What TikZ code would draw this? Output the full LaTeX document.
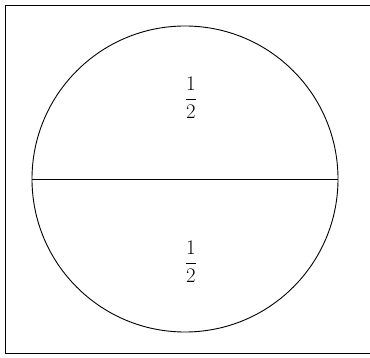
\documentclass[tikz,border=0pt]{standalone}
\begin{document}
\begin{tikzpicture}[x=1pt,y=-1pt,
  frameline/.style={line width=0.7pt},
  circline/.style={line width=0.9pt},
  frac/.style={font=\huge, inner sep=0pt}]
\useasboundingbox (0,0) rectangle (370,358);
\coordinate (tl) at (5,5);
\coordinate (tr) at (370,5);
\coordinate (bl) at (5,353);
\coordinate (br) at (370,353);
\draw[frameline] (tr) -- (tl) -- (bl) -- (br);
\node[circle, draw, circline, minimum size=306pt, inner sep=0pt] (c) at (185,179) {};
\draw[circline] (c.west) -- (c.east);
\node[frac] (top) at (191,98) {$\displaystyle\frac{1}{2}$};
\node[frac] (bot) at (191,262) {$\displaystyle\frac{1}{2}$};
\end{tikzpicture}
\end{document}
